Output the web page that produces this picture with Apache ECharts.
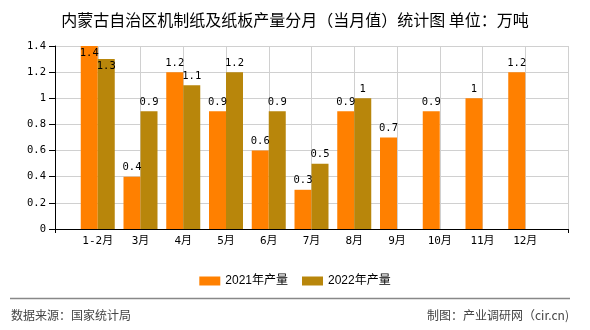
<!DOCTYPE html>
<html>
<head>
<meta charset="utf-8">
<script src="https://cdn.jsdelivr.net/npm/echarts@6/dist/echarts.min.js"></script>
<style>
html,body{margin:0;padding:0;background:#fff;}
#main{width:590px;height:330px;}
</style>
</head>
<body>
<div id="main"></div>
<script>
var categories = ['', '1-2月', '3月', '4月', '5月', '6月', '7月', '8月', '9月', '10月', '11月', '12月', ''];
var series2021 = [null, 1.4, 0.4, 1.2, 0.9, 0.6, 0.3, 0.9, 0.7, 0.9, 1, 1.2, null];
var series2022 = [null, 1.3, 0.9, 1.1, 1.2, 0.9, 0.5, 1, null, null, null, null, null];
var seriesNames = ['2021年产量', '2022年产量'];
var titleText = '内蒙古自治区机制纸及纸板产量分月（当月值）统计图 单位：万吨';
var sourceText = '数据来源：国家统计局';
var makerText = '制图：产业调研网（cir.cn)';

var numFont = '"DejaVu Sans Mono", "Noto Sans CJK SC", monospace';
var cjkFont = '"Noto Sans CJK SC", sans-serif';

function toItems(arr) {
  return arr.map(function (v) {
    if (v == null) return null;
    if (v >= 1.3) {
      return { value: v, label: { position: 'insideTop', distance: 2 } };
    }
    return v;
  });
}

var chart = echarts.init(document.getElementById('main'), null, { renderer: 'canvas' });
var labelStyle = {
  show: true, position: 'top', distance: 4,
  color: '#000', fontSize: 10.5, fontFamily: numFont
};
chart.setOption({
  animation: false,
  backgroundColor: '#fff',
  title: {
    text: titleText, left: 'center', top: 7,
    textStyle: { fontSize: 16, fontWeight: 'normal', color: '#000', fontFamily: cjkFont }
  },
  legend: {
    data: seriesNames, left: 'center', top: 270, icon: 'rect',
    itemWidth: 21, itemHeight: 9, itemGap: 14,
    textStyle: { fontSize: 12, color: '#000', fontFamily: '"Liberation Sans", "Noto Sans CJK SC", sans-serif' }
  },
  grid: { left: 55, right: 22, top: 46, bottom: 101, containLabel: false },
  xAxis: {
    type: 'category', data: categories, boundaryGap: false,
    axisLine: { lineStyle: { color: '#000', width: 1 } },
    axisTick: { show: true, length: 4, interval: function (i) { return i === 0 || i === categories.length - 1; }, lineStyle: { color: '#000' } },
    axisLabel: { interval: 0, margin: 7, fontSize: 11, color: '#000', fontFamily: numFont },
    splitLine: { show: true, interval: 0, lineStyle: { color: '#d0d0d0', width: 1 } }
  },
  yAxis: {
    type: 'value', min: 0, max: 1.4, interval: 0.2,
    axisLine: { show: true, lineStyle: { color: '#000', width: 1 } },
    axisTick: { show: true, length: 6, lineStyle: { color: '#000' } },
    axisLabel: { margin: 9, fontSize: 10.5, color: '#000', fontFamily: numFont,
      formatter: function (v) { return String(Math.round(v * 10) / 10); } },
    splitLine: { show: true, lineStyle: { color: '#d0d0d0', width: 1 } }
  },
  series: [
    { name: seriesNames[0], type: 'bar', data: toItems(series2021), barWidth: 17, barGap: '0%',
      itemStyle: { color: '#FF8000' }, label: labelStyle },
    { name: seriesNames[1], type: 'bar', data: toItems(series2022), barWidth: 17, barGap: '0%',
      itemStyle: { color: '#B8860B' }, label: labelStyle }
  ],
  graphic: [
    { type: 'line', shape: { x1: 10, y1: 298.5, x2: 570, y2: 298.5 }, style: { stroke: '#888', lineWidth: 1.5 } },
    { type: 'text', left: 11, top: 309, style: { text: sourceText, fontSize: 12, fill: '#444', fontFamily: cjkFont } },
    { type: 'text', right: 21, top: 309, style: { text: makerText, fontSize: 12, fill: '#444', fontFamily: cjkFont } }
  ]
});
</script>
</body>
</html>
